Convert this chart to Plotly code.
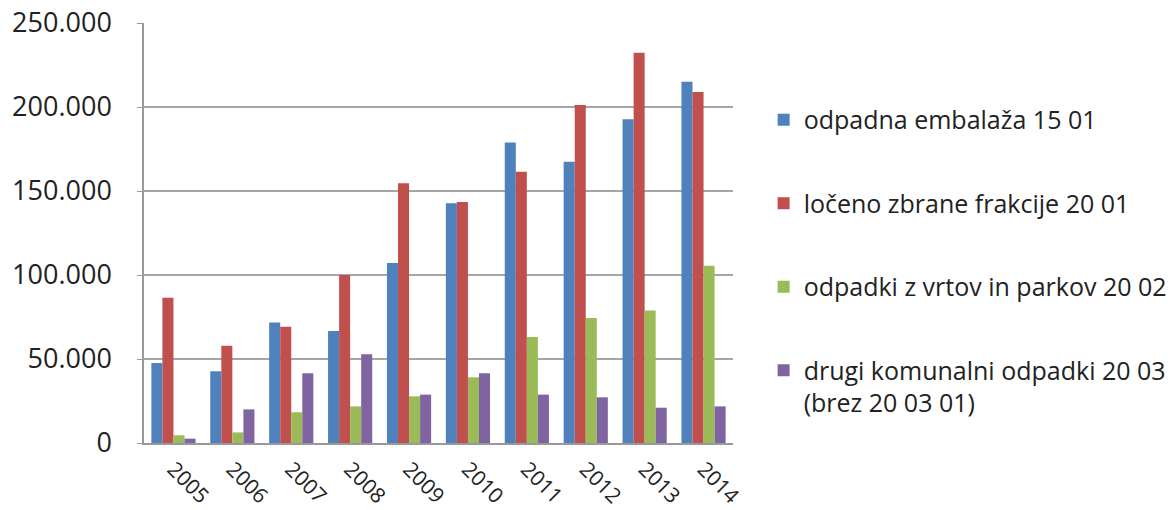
import plotly.graph_objects as go

years = ["2005", "2006", "2007", "2008", "2009", "2010", "2011", "2012", "2013", "2014"]

embalaza = [47600, 42700, 71800, 66700, 107100, 142700, 178800, 167400, 192700, 215100]
frakcije = [86500, 57900, 69200, 100000, 154600, 143400, 161500, 201200, 232300, 208900]
vrtovi = [4600, 6300, 18300, 21800, 27800, 39100, 63100, 74400, 78800, 105500]
drugi = [2600, 20000, 41500, 52800, 28800, 41500, 28800, 27200, 21000, 21800]

series_names = [
    "odpadna embalaža 15 01",
    "ločeno zbrane frakcije 20 01",
    "odpadki z vrtov in parkov 20 02",
    "drugi komunalni odpadki 20 03<br>(brez 20 03 01)",
]
colors = ["#4F81BD", "#C0504D", "#9BBB59", "#8064A2"]
y_ticks = [0, 50000, 100000, 150000, 200000, 250000]
y_tick_labels = ["0", "50.000", "100.000", "150.000", "200.000", "250.000"]

FONT = "Open Sans"

fig = go.Figure()
for i, (name, vals) in enumerate(zip(series_names, [embalaza, frakcije, vrtovi, drugi])):
    fig.add_trace(
        go.Bar(
            x=years,
            y=vals,
            name=name,
            legendgroup=f"g{i}",
            marker={"color": colors[i], "line": {"width": 0}},
        )
    )

fig.update_layout(
    width=1171,
    height=510,
    autosize=False,
    plot_bgcolor="white",
    paper_bgcolor="white",
    barmode="group",
    bargap=0.25,
    bargroupgap=0,
    font={"family": FONT, "color": "#222222"},
    margin={"l": 144, "r": 438, "t": 23, "b": 67, "autoexpand": False},
    legend={
        "x": 1.052,
        "xanchor": "left",
        "y": 0.824,
        "yanchor": "top",
        "font": {"size": 25, "family": FONT, "color": "#222222"},
        "tracegroupgap": 48,
        "valign": "top",
        "itemwidth": 30,
    },
)
fig.update_xaxes(
    showline=True,
    linecolor="#999999",
    linewidth=1.5,
    tickangle=45,
    tickfont={"size": 21, "family": FONT},
    ticks="",
    ticklabelstandoff=4,
    automargin=False,
)
fig.update_yaxes(
    range=[0, 250000],
    tickvals=y_ticks,
    ticktext=y_tick_labels,
    showgrid=True,
    gridcolor="#A6A6A6",
    gridwidth=1.5,
    showline=True,
    linecolor="#999999",
    linewidth=1.5,
    ticks="outside",
    ticklen=5,
    tickcolor="#999999",
    tickfont={"size": 27, "family": FONT},
    ticklabelstandoff=20,
    zeroline=False,
    automargin=False,
)

# the page body has a default 8px margin; drop it so the chart sits at the window's corner
fig.write_html(
    "out.html",
    config={"displayModeBar": False},
    post_script="document.body.style.margin='0px';",
)
